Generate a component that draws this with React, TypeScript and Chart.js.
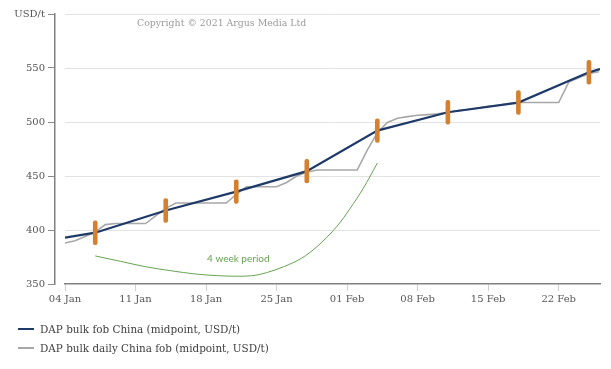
import React, { useEffect, useRef } from "react";
import { Chart, registerables } from "chart.js";

Chart.register(...registerables);

// ---- data ----
const xTickDays = [0, 7, 14, 21, 28, 35, 42, 49];
const xTickLabels = ["04 Jan", "11 Jan", "18 Jan", "25 Jan", "01 Feb", "08 Feb", "15 Feb", "22 Feb"];
const yTickValues = [350, 400, 450, 500, 550, 600];
const yUnitLabel = "USD/t";

// weekly assessment (day index, 0 = 04 Jan)
const fobDays = [0, 3, 10, 17, 24, 31, 38, 45, 52, 53.1];
const fobValues = [393, 397.5, 418, 435.5, 454.5, 492, 509, 518, 546, 549];

// daily assessment
const dailyDays = [
  0, 1, 2, 3, 4, 5, 6, 7, 8, 9, 10, 11, 12, 13, 14, 15, 16, 17, 18, 19, 20, 21, 22, 23, 24, 25, 26,
  27, 28, 29, 30, 31, 32, 33, 34, 35, 36, 37, 38, 39, 40, 41, 42, 43, 44, 45, 46, 47, 48, 49, 50, 51,
  52, 53,
];
const dailyValues = [
  388, 390, 394, 398, 405, 406, 406, 406, 406, 413, 420, 425, 425, 425, 425, 425, 425, 433, 440, 440,
  440, 440, 444, 450, 453.5, 455.5, 455.5, 455.5, 455.5, 455.5, 474, 490, 499.5, 503.5, 505, 506.3,
  506.8, 507.5, 509, 510.5, 511.5, 513, 514.5, 515.5, 517, 518, 518, 518, 518, 518, 537, 541, 545,
  546.5,
];

// orange assessment markers
const markerDays = [3, 10, 17, 24, 31, 38, 45, 52];
const markerValues = [397.5, 418, 435.5, 454.5, 492, 509, 518, 546];

// green "4 week period" curve
const periodDays = [3, 5.5, 8, 10.5, 13, 15, 17, 18.5, 20, 21.7, 23.5, 25, 27, 28.3, 29.6, 31];
const periodValues = [376, 371, 366, 362.3, 359.2, 357.8, 357.2, 357.6, 360.5, 366, 374, 384.5, 403.5, 420, 438.5, 462];
const periodLabel = "4 week period";
const periodLabelDay = 17.2;
const periodLabelValue = 373;

const seriesLabels = [
  "DAP bulk fob China (midpoint, USD/t)",
  "DAP bulk daily China fob (midpoint, USD/t)",
];
const copyrightText = "Copyright \u00a9 2021 Argus Media Ltd";

// ---- styles ----
const NAVY = "#1f3a68";
const GREY = "#a8a8a8";
const ORANGE = "#d5802f";
const GREEN = "#66a352";
const MARKER_HALF = 11;
const SERIF = "'DejaVu Serif', serif";

export default function App() {
  const ref = useRef<HTMLCanvasElement | null>(null);

  useEffect(() => {
    if (!ref.current) return;

    const gridPlugin = {
      id: "customGrid",
      beforeDatasetsDraw(chart: any) {
        const { ctx, chartArea, scales } = chart;
        const ys = scales.y;
        ctx.save();
        ctx.strokeStyle = "#e3e3e3";
        ctx.lineWidth = 1;
        yTickValues.forEach((v) => {
          if (v === yTickValues[0]) return;
          const y = Math.round(ys.getPixelForValue(v)) + 0.5;
          ctx.beginPath();
          ctx.moveTo(chartArea.left, y);
          ctx.lineTo(chartArea.right, y);
          ctx.stroke();
        });
        ctx.restore();
      },
      afterDatasetsDraw(chart: any) {
        const { ctx, scales } = chart;
        ctx.save();
        ctx.fillStyle = GREEN;
        ctx.font = "10px Lato";
        ctx.textAlign = "center";
        ctx.textBaseline = "middle";
        ctx.fillText(
          periodLabel,
          scales.x.getPixelForValue(periodLabelDay),
          scales.y.getPixelForValue(periodLabelValue)
        );
        ctx.restore();
      },
    };

    const chart = new Chart(ref.current, {
      type: "line",
      data: {
        datasets: [
          {
            type: "bar",
            label: "markers",
            data: markerDays.map((d, i) => ({
              x: d,
              y: [markerValues[i] - MARKER_HALF, markerValues[i] + MARKER_HALF],
            })) as any,
            backgroundColor: ORANGE,
            barThickness: 4,
            borderRadius: 2,
            borderSkipped: false,
            order: 0,
          } as any,
          {
            label: seriesLabels[0],
            data: fobDays.map((d, i) => ({ x: d, y: fobValues[i] })),
            borderColor: NAVY,
            borderWidth: 2.2,
            pointRadius: 0,
            tension: 0,
            order: 1,
          },
          {
            label: seriesLabels[1],
            data: dailyDays.map((d, i) => ({ x: d, y: dailyValues[i] })),
            borderColor: GREY,
            borderWidth: 1.6,
            pointRadius: 0,
            tension: 0,
            order: 2,
          },
          {
            label: "period",
            data: periodDays.map((d, i) => ({ x: d, y: periodValues[i] })),
            borderColor: GREEN,
            borderWidth: 1,
            pointRadius: 0,
            cubicInterpolationMode: "monotone",
            order: 3,
          },
        ],
      },
      options: {
        animation: false,
        responsive: false,
        maintainAspectRatio: false,
        layout: { padding: { top: 14, right: 11, bottom: 60, left: 0 } },
        plugins: { legend: { display: false }, tooltip: { enabled: false } },
        scales: {
          x: {
            type: "linear",
            min: 0,
            max: 53.1,
            offset: false,
            afterBuildTicks: (s: any) => {
              s.ticks = xTickDays.map((v) => ({ value: v }));
            },
            afterFit: (s: any) => {
              s.height = 25;
            },
            ticks: {
              autoSkip: false,
              maxRotation: 0,
              padding: 2,
              color: "#555555",
              font: { family: SERIF, size: 10 },
              callback: (v: any) => {
                const i = xTickDays.indexOf(Number(v));
                return i >= 0 ? xTickLabels[i] : "";
              },
            },
            grid: {
              offset: false,
              drawOnChartArea: false,
              drawTicks: true,
              tickLength: 7,
              tickColor: "#cfcfcf",
            },
            border: { display: true, color: "#808080", width: 1.5 },
          },
          y: {
            min: 350,
            max: 600,
            weight: 2,
            afterBuildTicks: (s: any) => {
              s.ticks = yTickValues.map((v) => ({ value: v }));
            },
            afterFit: (s: any) => {
              s.width = 55;
            },
            ticks: {
              padding: 3,
              color: "#555555",
              font: { family: SERIF, size: 10 },
              callback: (v: any) => (Number(v) === 600 ? yUnitLabel : String(v)),
            },
            grid: {
              drawOnChartArea: false,
              drawTicks: true,
              tickLength: 7,
              tickColor: "#8a8a8a",
            },
            border: { display: true, color: "#808080", width: 1.5 },
          },
          gap: {
            type: "linear",
            position: "left",
            weight: 1,
            min: 350,
            max: 600,
            afterFit: (s: any) => {
              s.width = 10;
            },
            ticks: { display: false },
            grid: { display: false, drawTicks: false },
            border: { display: false },
          },
        },
      },
      plugins: [gridPlugin],
    } as any);

    return () => chart.destroy();
  }, []);

  const legendRow = (label: string, color: string, top: number) => (
    <div
      style={{
        position: "absolute",
        left: 18,
        top,
        display: "flex",
        alignItems: "center",
        height: 14,
      }}
    >
      <div style={{ width: 16, height: 2, background: color, marginRight: 6 }} />
      <span style={{ fontFamily: SERIF, fontSize: 10.4, color: "#404040", whiteSpace: "nowrap" }}>
        {label}
      </span>
    </div>
  );

  return (
    <div
      style={{
        position: "fixed",
        left: 0,
        top: 0,
        width: 611,
        height: 369,
        background: "#ffffff",
        overflow: "hidden",
      }}
    >
      <canvas ref={ref} width={611} height={369} style={{ position: "absolute", left: 0, top: 0 }} />
      <div
        style={{
          position: "absolute",
          left: 137,
          top: 17,
          fontFamily: SERIF,
          fontSize: 9.4,
          color: "#9a9a9a",
          whiteSpace: "nowrap",
        }}
      >
        {copyrightText}
      </div>
      {legendRow(seriesLabels[0], NAVY, 322)}
      {legendRow(seriesLabels[1], GREY, 341)}
    </div>
  );
}
